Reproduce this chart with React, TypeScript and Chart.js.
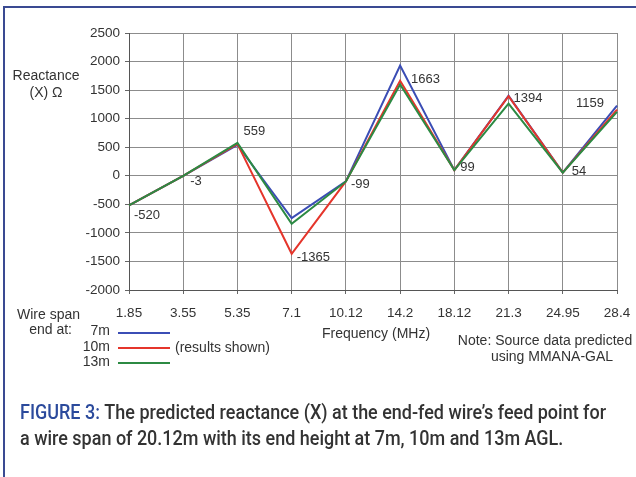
import React, { useEffect, useRef } from "react";
import { Chart, registerables } from "chart.js";

Chart.register(...registerables);

const frequencies = ["1.85", "3.55", "5.35", "7.1", "10.12", "14.2", "18.12", "21.3", "24.95", "28.4"];
const span7m = [-520, -3, 540, -740, -99, 1930, 99, 1400, 54, 1230];
const span10m = [-520, -3, 559, -1365, -99, 1663, 99, 1394, 54, 1159];
const span13m = [-520, -3, 575, -840, -99, 1600, 99, 1265, 54, 1120];
const seriesNames = ["7m", "10m", "13m"];
const pointLabels = ["-520", "-3", "559", "-1365", "-99", "1663", "99", "1394", "54", "1159"];

const COLORS = ["#3b4db5", "#e5352b", "#2c8a43"];
const FONT = "'Liberation Sans', Arial, sans-serif";

// label offsets relative to the 10m points (dx, dy, align)
const labelOffsets: [number, number, CanvasTextAlign][] = [
  [5, 10, "left"],
  [7, 5, "left"],
  [6, -12, "left"],
  [5, 4, "left"],
  [5, 3, "left"],
  [11, -1, "left"],
  [6, -3, "left"],
  [5, 2, "left"],
  [9, -1, "left"],
  [-13, -6, "right"],
];

const textPlugin = {
  id: "texts",
  afterDraw(chart: any) {
    const ctx: CanvasRenderingContext2D = chart.ctx;
    const xs = chart.scales.x;
    const ys = chart.scales.y;
    ctx.save();
    ctx.fillStyle = "#333";
    ctx.textBaseline = "middle";

    // data labels
    ctx.font = `13px ${FONT}`;
    span10m.forEach((v, i) => {
      const px = xs.getPixelForValue(i);
      const py = ys.getPixelForValue(v);
      const [dx, dy, al] = labelOffsets[i];
      ctx.textAlign = al;
      ctx.fillText(pointLabels[i], px + dx, py + dy);
    });

    ctx.font = `14px ${FONT}`;
    // y title
    ctx.textAlign = "center";
    ctx.fillText("Reactance", 46, 76);
    ctx.fillText("(X) \u03a9", 46, 93);

    // legend
    ctx.textAlign = "right";
    ctx.fillText("Wire span", 80, 315);
    ctx.fillText("end at:", 72, 330);
    const legY = [331, 347, 362];
    const lineY = [333, 348, 363];
    seriesNames.forEach((n, i) => {
      ctx.fillStyle = "#333";
      ctx.textAlign = "right";
      ctx.fillText(n, 110, legY[i]);
      ctx.strokeStyle = COLORS[i];
      ctx.lineWidth = 2;
      ctx.beginPath();
      ctx.moveTo(118, lineY[i]);
      ctx.lineTo(170, lineY[i]);
      ctx.stroke();
    });
    ctx.fillStyle = "#333";
    ctx.textAlign = "left";
    ctx.fillText("(results shown)", 175, 348);

    ctx.textAlign = "center";
    ctx.fillText("Frequency (MHz)", 376, 334);
    ctx.fillText("Note: Source data predicted", 545, 341);
    ctx.fillText("using MMANA-GAL", 552, 357);

    // caption
    ctx.font = `500 19.5px Roboto, sans-serif`;
    ctx.textAlign = "left";
    ctx.textBaseline = "alphabetic";
    const fig = "FIGURE 3:";
    const rest1 = " The predicted reactance (X) at the end-fed wire\u2019s feed point for";
    const line2 = "a wire span of 20.12m with its end height at 7m, 10m and 13m AGL.";
    const w1 = ctx.measureText(fig + rest1).width;
    const sx = 586 / w1;
    ctx.save();
    ctx.translate(20, 0);
    ctx.scale(sx, 1);
    ctx.fillStyle = "#2b4a9c";
    ctx.fillText(fig, 0, 419);
    const wf = ctx.measureText(fig).width;
    ctx.fillStyle = "#333";
    ctx.fillText(rest1, wf, 419);
    ctx.fillText(line2, 0, 445);
    ctx.restore();

    ctx.restore();
  },
};

export default function App() {
  const ref = useRef<HTMLCanvasElement | null>(null);
  useEffect(() => {
    if (!ref.current) return;
    const datasets = [span7m, span10m, span13m].map((d, i) => ({
      label: seriesNames[i],
      data: d,
      borderColor: COLORS[i],
      backgroundColor: COLORS[i],
      borderWidth: 2,
      pointRadius: 0,
      tension: 0,
      order: 2 - i,
    }));
    const chart = new Chart(ref.current, {
      type: "line",
      data: { labels: frequencies, datasets },
      options: {
        responsive: false,
        animation: false,
        layout: { padding: { left: 0, top: 33, right: 19, bottom: 0 } },
        plugins: { legend: { display: false }, tooltip: { enabled: false } },
        scales: {
          x: {
            offset: false,
            grid: { color: "#8c8c8c", lineWidth: 1, drawTicks: true, tickLength: 4, tickColor: "#666" },
            border: { color: "#555", width: 1 },
            ticks: { color: "#333", font: { family: FONT, size: 13.5 }, padding: 11, maxRotation: 0, autoSkip: false },
            afterFit(s: any) {
              s.height = 187;
              s.paddingLeft = 0;
              s.paddingRight = 0;
            },
          },
          y: {
            min: -2000,
            max: 2500,
            grid: { color: "#8c8c8c", lineWidth: 1, drawTicks: true, tickLength: 4, tickColor: "#666" },
            border: { color: "#555", width: 1 },
            ticks: {
              stepSize: 500,
              color: "#333",
              font: { family: FONT, size: 13.5 },
              padding: 5,
              callback: (v: any) => String(v),
            },
            afterFit(s: any) {
              s.width = 129;
              s.paddingTop = 0;
              s.paddingBottom = 0;
            },
          },
        },
      },
      plugins: [textPlugin],
    } as any);
    return () => chart.destroy();
  }, []);
  return (
    <div style={{ position: "fixed", left: 0, top: 0, width: 636, height: 477, background: "#fff", overflow: "hidden" }}>
      <canvas ref={ref} width={636} height={477} style={{ position: "absolute", left: 0, top: 0 }} />
      <div
        style={{
          position: "absolute",
          left: 3,
          top: 6,
          width: 640,
          height: 480,
          borderLeft: "2px solid #3a4a92",
          borderTop: "2px solid #3a4a92",
          pointerEvents: "none",
        }}
      />
    </div>
  );
}
